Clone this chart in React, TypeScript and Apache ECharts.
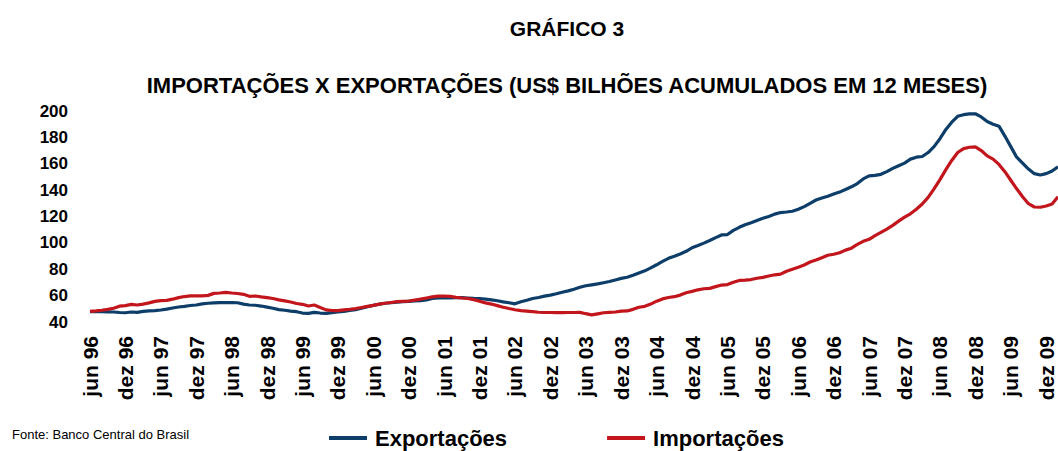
import React, { useEffect, useRef } from "react";
import * as echarts from "echarts";

const monthNames = ["jan", "fev", "mar", "abr", "mai", "jun", "jul", "ago", "set", "out", "nov", "dez"];
// monthly categories from jun/1996 to fev/2010
const categories: string[] = [];
for (let y = 1996; y <= 2010; y++) {
  for (let m = 0; m < 12; m++) {
    if (y === 1996 && m < 5) continue;
    if (y === 2010 && m > 1) continue;
    categories.push(monthNames[m] + " " + String(y).slice(2));
  }
}

const exportacoes = [
  47.8, 47.9, 47.8, 47.7, 47.6, 47.2, 47.0, 47.6, 47.3, 48.0, 48.4, 48.6,
  49.1, 49.8, 50.6, 51.4, 51.9, 52.5, 52.9, 53.7, 54.2, 54.5, 54.7, 54.7,
  54.7, 54.6, 53.6, 52.9, 52.7, 52.1, 51.3, 50.4, 49.4, 48.9, 48.3, 47.8,
  46.8, 46.6, 47.3, 46.8, 46.6, 47.1, 47.6, 48.1, 48.8, 49.4, 50.4, 51.6,
  52.6, 53.5, 54.2, 54.6, 55.0, 55.4, 55.7, 56.0, 56.2, 56.8, 57.8, 58.2,
  58.2, 58.3, 58.4, 58.5, 58.2, 57.9, 57.8, 57.4, 56.8, 56.1, 55.3, 54.6,
  53.8, 55.3, 56.5, 57.8, 58.6, 59.6, 60.4, 61.4, 62.6, 63.6, 64.8, 66.3,
  67.5, 68.2, 68.9, 69.8, 70.7, 71.9, 73.1, 73.9, 75.4, 77.1, 78.8, 81.0,
  83.4, 86.0, 88.3, 89.9, 91.6, 93.6, 96.3, 98.0, 99.8, 101.8, 104.0, 106.0,
  106.3, 109.5, 111.8, 113.8, 115.3, 117.0, 118.6, 120.0, 121.8, 123.0, 123.4, 124.0,
  125.5, 127.5, 130.0, 132.5, 134.0, 135.3, 137.0, 138.5, 140.5, 142.5, 145.0, 148.5,
  150.8, 151.2, 152.0, 154.0, 156.5, 158.5, 160.5, 163.5, 165.0, 165.5, 168.5, 173.0,
  179.0, 186.0, 191.5, 196.0, 197.2, 197.8, 197.9, 195.5, 192.0, 190.0, 188.5, 181.0,
  173.0, 165.0, 160.5, 156.0, 152.5, 151.5, 152.5, 154.5, 157.7,
];

const importacoes = [
  48.0, 48.4, 48.9, 49.6, 50.4, 52.0, 52.4, 53.4, 52.9, 53.6, 54.5, 55.6,
  56.2, 56.4, 57.3, 58.5, 59.3, 59.8, 59.8, 59.8, 60.2, 61.7, 62.0, 62.5,
  62.0, 61.6, 61.0, 59.5, 59.7, 59.0, 58.5, 57.8, 56.8, 56.0, 55.2, 54.0,
  53.4, 52.1, 52.9, 51.0, 49.2, 48.7, 48.6, 49.2, 49.6, 50.2, 51.0, 51.8,
  52.6, 53.6, 54.2, 54.8, 55.4, 55.7, 55.9, 56.6, 57.3, 58.2, 59.0, 59.6,
  59.7, 59.5, 58.7, 58.2, 57.8, 57.0, 55.8, 54.5, 53.6, 52.4, 51.2, 50.2,
  49.3, 48.6, 48.2, 47.8, 47.4, 47.2, 47.2, 47.1, 47.1, 47.2, 47.2, 47.3,
  46.3, 45.4, 46.2, 47.0, 47.3, 47.6, 48.3, 48.4, 49.6, 51.2, 51.9, 53.6,
  55.8, 57.5, 58.6, 59.2, 60.4, 62.2, 63.2, 64.4, 65.2, 65.5, 66.8, 68.0,
  68.4, 70.2, 71.5, 71.8, 72.2, 73.2, 73.8, 74.9, 75.8, 76.3, 78.5, 80.0,
  81.5, 83.2, 85.5, 87.0, 88.8, 90.6, 91.4, 92.5, 94.5, 96.0, 98.8, 101.2,
  102.7, 105.5, 108.0, 110.5, 113.3, 116.5, 119.5, 122.0, 125.5, 129.5, 134.5, 141.0,
  148.0, 155.5, 162.5, 168.5, 171.5, 172.5, 172.8, 170.0, 166.0, 163.5, 159.5, 154.0,
  147.5, 141.0, 135.0, 129.7, 127.2, 127.0, 128.0, 129.5, 135.0,
];

const yTicks = { min: 40, max: 200, interval: 20 };

const FONT = "'Liberation Sans', Arial, sans-serif";

export default function App() {
  const ref = useRef<HTMLDivElement>(null);
  useEffect(() => {
    if (!ref.current) return;
    const chart = echarts.init(ref.current, undefined, { renderer: "svg" });
    chart.setOption({
      animation: false,
      backgroundColor: "#ffffff",
      textStyle: { fontFamily: FONT },
      grid: { left: 90, right: 0, top: 111, bottom: 129 },
      xAxis: {
        type: "category",
        data: categories,
        boundaryGap: false,
        axisLine: { show: false },
        axisTick: { show: false },
        splitLine: { show: false },
        axisLabel: {
          rotate: 90,
          interval: (i: number) => i % 6 === 0,
          fontFamily: FONT,
          fontWeight: "bold",
          fontSize: 21,
          color: "#000",
          margin: 14,
        },
      },
      yAxis: {
        type: "value",
        min: yTicks.min,
        max: yTicks.max,
        interval: yTicks.interval,
        axisLine: { show: false },
        axisTick: { show: false },
        splitLine: { show: false },
        axisLabel: {
          fontFamily: FONT,
          fontWeight: "bold",
          fontSize: 17,
          color: "#000",
          margin: 22,
        },
      },
      legend: {
        left: 329,
        top: 427,
        padding: 0,
        icon: "rect",
        itemWidth: 38,
        itemHeight: 4,
        itemGap: 100,
        textStyle: { fontFamily: FONT, fontWeight: "bold", fontSize: 22, color: "#000", padding: [0, 0, 0, 3] },
        data: ["Exportações", "Importações"],
      },
      graphic: [
        {
          type: "text",
          x: 567,
          y: 28,
          style: { text: "GRÁFICO 3", font: `bold 21px ${FONT}`, fill: "#000", textAlign: "center", textVerticalAlign: "middle" },
        },
        {
          type: "text",
          x: 567,
          y: 85,
          style: {
            text: "IMPORTAÇÕES X EXPORTAÇÕES (US$ BILHÕES ACUMULADOS EM 12 MESES)",
            font: `bold 22px ${FONT}`,
            fill: "#000",
            textAlign: "center",
            textVerticalAlign: "middle",
          },
        },
        {
          type: "text",
          x: 12,
          y: 434,
          style: { text: "Fonte: Banco Central do Brasil", font: `13px ${FONT}`, fill: "#000", textVerticalAlign: "middle" },
        },
      ],
      series: [
        {
          name: "Exportações",
          type: "line",
          data: exportacoes,
          showSymbol: false,
          lineStyle: { width: 3.2, color: "#0d3d69" },
          itemStyle: { color: "#0d3d69" },
        },
        {
          name: "Importações",
          type: "line",
          data: importacoes,
          showSymbol: false,
          lineStyle: { width: 3.2, color: "#c2161c" },
          itemStyle: { color: "#c2161c" },
        },
      ],
    });
    return () => chart.dispose();
  }, []);
  return <div ref={ref} style={{ position: "absolute", left: 0, top: 0, width: 1058, height: 451 }} />;
}
